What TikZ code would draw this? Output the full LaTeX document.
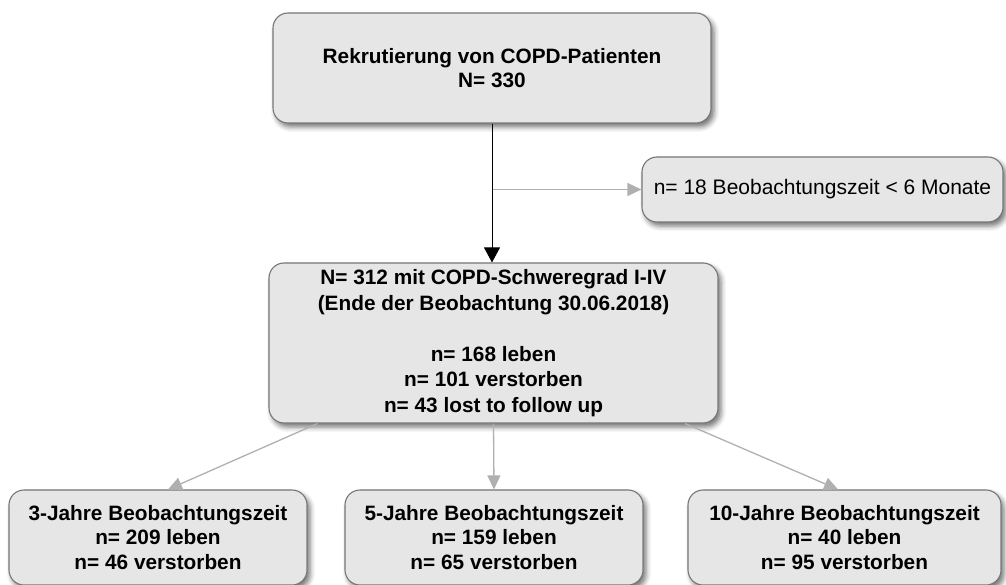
\documentclass[tikz,border=0pt]{standalone}
\usepackage{fontspec}
\setmainfont{Liberation Sans}
\usetikzlibrary{positioning,arrows.meta,shadows.blur}
\definecolor{boxfill}{HTML}{E6E6E6}
\definecolor{boxline}{HTML}{767676}
\definecolor{branch}{HTML}{B0B0B0}

\begin{document}
\begin{tikzpicture}[x=1pt,y=-1pt,
        box/.style={draw=boxline, line width=1.1pt, fill=boxfill, rounded corners=15pt,
            align=center, inner sep=0pt, font=\bfseries\fontsize{20.8}{24.5}\selectfont,
            blur shadow={shadow xshift=3pt, shadow yshift=-4pt, shadow blur radius=5pt, shadow opacity=55}},
        mainarrow/.style={-{Triangle[length=15pt,width=16pt]}, line width=1pt, black},
        grayarrow/.style={-{Triangle[length=14pt,width=13pt]}, line width=1.3pt, branch}]

            \useasboundingbox (0,0) rectangle (1006,585);

            \node [box, minimum width=438pt, minimum height=110pt] (recruit) at (492,68)
                {Rekrutierung von COPD-Patienten\\N= 330};
            \node [box, font=\fontsize{21}{24.5}\selectfont, minimum width=361pt, minimum height=65pt] (excl) at (822.5,189.5)
                {n= 18 Beobachtungszeit < 6 Monate};
            \node [box, font=\bfseries\fontsize{20.8}{25.5}\selectfont, minimum width=449pt, minimum height=160pt] (cohort) at (493.5,343)
                {N= 312 mit COPD-Schweregrad I-IV\\(Ende der Beobachtung 30.06.2018)\\[25.5pt]n= 168 leben\\n= 101 verstorben\\n= 43 lost to follow up};

            \node [box, minimum width=298pt, minimum height=95pt] (three) at (158,537.5)
                {3-Jahre Beobachtungszeit\\n= 209 leben\\n= 46 verstorben};
            \node [box, minimum width=298pt, minimum height=95pt] (five) at (494,537.5)
                {5-Jahre Beobachtungszeit\\n= 159 leben\\n= 65 verstorben};
            \node [box, minimum width=313pt, minimum height=95pt] (ten) at (844.5,537.5)
                {10-Jahre Beobachtungszeit\\n= 40 leben\\n= 95 verstorben};

            \coordinate (split) at (recruit.south |- excl.west);
            \draw [grayarrow] (split) -- (excl.west);
            \draw [mainarrow] (recruit.south) -- (recruit.south |- cohort.north);

            \draw [grayarrow] ([xshift=-176pt]cohort.south) -- ([xshift=10pt]three.north);
            \draw [grayarrow] (cohort.south) -- (five.north);
            \draw [grayarrow] ([xshift=191.5pt]cohort.south) -- ([xshift=-6.5pt]ten.north);
        \end{tikzpicture}
\end{document}
